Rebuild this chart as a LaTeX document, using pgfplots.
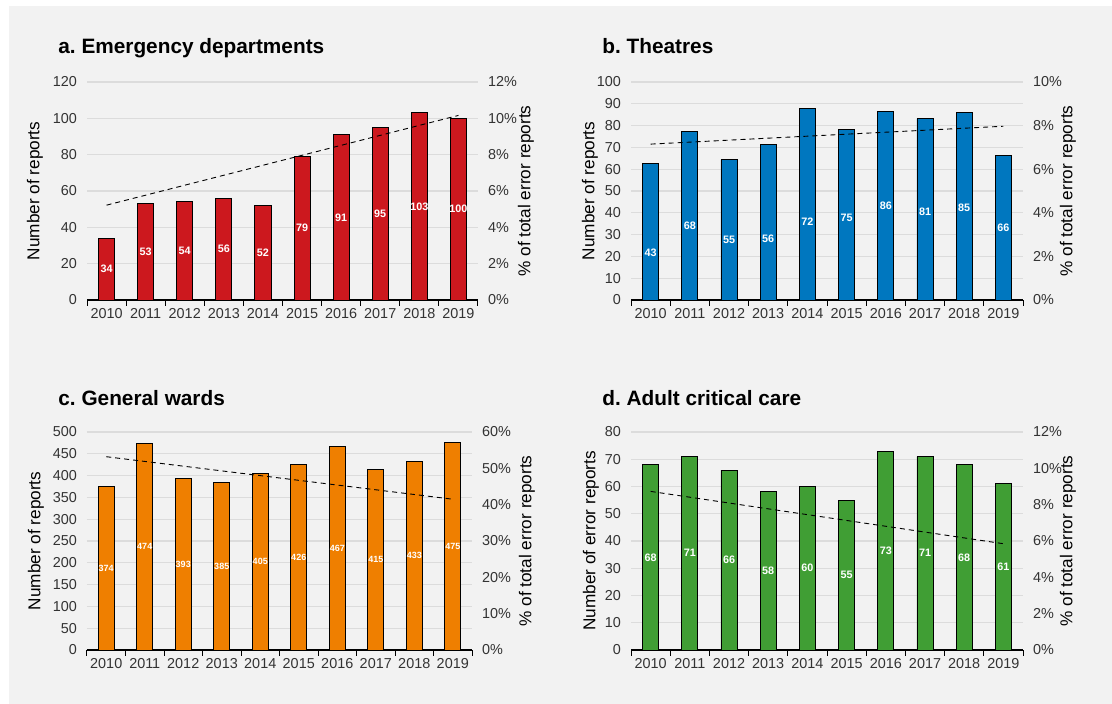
\documentclass[border=0pt]{standalone}
\usepackage{pgfplots}
\pgfplotsset{compat=1.18}
\usepackage{fontspec}
\setmainfont{Liberation Sans}
\frenchspacing
\definecolor{bg}{HTML}{F2F2F2}
\definecolor{gridc}{HTML}{DCDCDC}
\definecolor{tickc}{HTML}{333333}
\definecolor{cred}{HTML}{CC181E}
\definecolor{cblue}{HTML}{0077BF}
\definecolor{corange}{HTML}{EF7F00}
\definecolor{cgreen}{HTML}{409E34}
\tikzset{ptitle/.style={anchor=base west, inner sep=0pt, font=\bfseries\fontsize{10.4}{12}\selectfont}}
\pgfplotsset{
  panel/.style={
    scale only axis, height=109pt, anchor=south west,
    xmin=-0.5, xmax=9.5, ymin=0,
    /pgf/number format/assume math mode=true,
    axis x line*=bottom, axis y line*=left,
    y axis line style={draw=none},
    x axis line style={black, line width=0.6pt, -},
    xtick={0,...,9},
    xticklabels={2010,2011,2012,2013,2014,2015,2016,2017,2018,2019},
    minor xtick={-0.5,0.5,...,9.5},
    major tick length=0pt, minor tick length=3pt,
    xtick align=outside,
    minor x tick style={black, line width=0.5pt},
    ymajorgrids, major grid style={gridc, line width=0.6pt},
    tick label style={text=tickc, font=\fontsize{7.2}{8}\selectfont},
    xticklabel style={yshift=-0.5pt},
    yticklabel style={xshift=-1.5pt},
    ylabel style={at={(axis description cs:0,0.5)}, anchor=center, font=\fontsize{8.6}{10}\selectfont},
  },
  rpanel/.style={
    scale only axis, height=109pt, anchor=south west,
    xmin=-0.5, xmax=9.5, ymin=0,
    /pgf/number format/assume math mode=true,
    axis x line=none, axis y line*=right,
    y axis line style={draw=none},
    major tick length=0pt,
    yticklabel={\pgfmathprintnumber{\tick}\%},
    tick label style={text=tickc, font=\fontsize{7.2}{8}\selectfont},
    yticklabel style={xshift=1.5pt},
    ylabel={\% of total error reports},
    ylabel style={at={(axis description cs:1,0.5)}, anchor=center, font=\fontsize{8.6}{10}\selectfont},
  },
  bars/.style={ybar, bar width=0.41, fill=#1, draw=black, line width=0.45pt},
  vals/.style={draw=none, mark=none, nodes near coords, point meta=explicit symbolic,
    nodes near coords style={anchor=center, text=white, font=\bfseries\fontsize{#1}{6}\selectfont}},
  trend/.style={black, line width=0.45pt, dash pattern=on 2.5pt off 2pt},
}
\begin{document}
\begin{tikzpicture}
\useasboundingbox (0,0) rectangle (556pt,352pt);
\fill[white] (0,0) rectangle (556pt,352pt);
\fill[bg] (4.5pt,0) rectangle (556pt,349pt);

% ---------- a. Emergency departments ----------
\node[ptitle] at (29pt,325pt) {a. Emergency departments};
\begin{axis}[panel, at={(43.5pt,202pt)}, width=195.5pt, ymax=120, ytick={0,20,...,120},
  ylabel={Number of reports}, ylabel style={yshift=26pt}]
\addplot[bars=cred] coordinates {(0,34) (1,53) (2,54) (3,56) (4,52) (5,79) (6,91) (7,95) (8,103) (9,100)};
\addplot[vals=5.4] coordinates {(0,17)[34] (1,26.5)[53] (2,27)[54] (3,28)[56] (4,26)[52] (5,39.5)[79] (6,45.5)[91] (7,47.5)[95] (8,51.5)[103] (9,50)[100]};
\end{axis}
\begin{axis}[rpanel, at={(43.5pt,202pt)}, width=195.5pt, ymax=12, ytick={0,2,...,12}, ylabel style={yshift=-24pt}]
\addplot[trend] coordinates {(0,5.22) (9,10.16)};
\end{axis}

% ---------- b. Theatres ----------
\node[ptitle] at (301pt,325pt) {b. Theatres};
\begin{axis}[panel, at={(315.5pt,202pt)}, width=196pt, ymax=100, ytick={0,10,...,100},
  ylabel={Number of reports}, ylabel style={yshift=20.5pt}]
\addplot[bars=cblue] coordinates {(0,62.7) (1,77.3) (2,64.4) (3,71.4) (4,87.8) (5,78.2) (6,86.6) (7,83.2) (8,86.1) (9,66.1)};
\addplot[vals=5.4] coordinates {(0,21.5)[43] (1,34)[68] (2,27.5)[55] (3,28)[56] (4,36)[72] (5,37.5)[75] (6,43)[86] (7,40.5)[81] (8,42.5)[85] (9,33)[66]};
\end{axis}
\begin{axis}[rpanel, at={(315.5pt,202pt)}, width=196pt, ymax=10, ytick={0,2,...,10}, ylabel style={yshift=-22.5pt}]
\addplot[trend] coordinates {(0,7.15) (9,7.97)};
\end{axis}

% ---------- c. General wards ----------
\node[ptitle] at (29pt,149.2pt) {c. General wards};
\begin{axis}[panel, at={(43.5pt,27pt)}, width=192.5pt, ymax=500, ytick={0,50,...,500},
  ylabel={Number of reports}, ylabel style={yshift=25.5pt}]
\addplot[bars=corange] coordinates {(0,374) (1,474) (2,393) (3,385) (4,405) (5,426) (6,467) (7,415) (8,433) (9,475)};
\addplot[vals=4.5] coordinates {(0,187)[374] (1,237)[474] (2,196.5)[393] (3,192.5)[385] (4,202.5)[405] (5,213)[426] (6,233.5)[467] (7,207.5)[415] (8,216.5)[433] (9,237.5)[475]};
\end{axis}
\begin{axis}[rpanel, at={(43.5pt,27pt)}, width=192.5pt, ymax=60, ytick={0,10,...,60}, ylabel style={yshift=-27.5pt}]
\addplot[trend] coordinates {(0,53.2) (9,41.5)};
\end{axis}

% ---------- d. Adult critical care ----------
\node[ptitle] at (301pt,149.2pt) {d. Adult critical care};
\begin{axis}[panel, at={(315.5pt,27pt)}, width=196pt, ymax=80, ytick={0,10,...,80},
  ylabel={Number of error reports}, ylabel style={yshift=20pt}]
\addplot[bars=cgreen] coordinates {(0,68) (1,71) (2,66) (3,58) (4,60) (5,55) (6,73) (7,71) (8,68) (9,61)};
\addplot[vals=5.4] coordinates {(0,34)[68] (1,35.5)[71] (2,33)[66] (3,29)[58] (4,30)[60] (5,27.5)[55] (6,36.5)[73] (7,35.5)[71] (8,34)[68] (9,30.5)[61]};
\end{axis}
\begin{axis}[rpanel, at={(315.5pt,27pt)}, width=196pt, ymax=12, ytick={0,2,...,12}, ylabel style={yshift=-22.5pt}]
\addplot[trend] coordinates {(0,8.73) (9,5.85)};
\end{axis}
\end{tikzpicture}
\end{document}
